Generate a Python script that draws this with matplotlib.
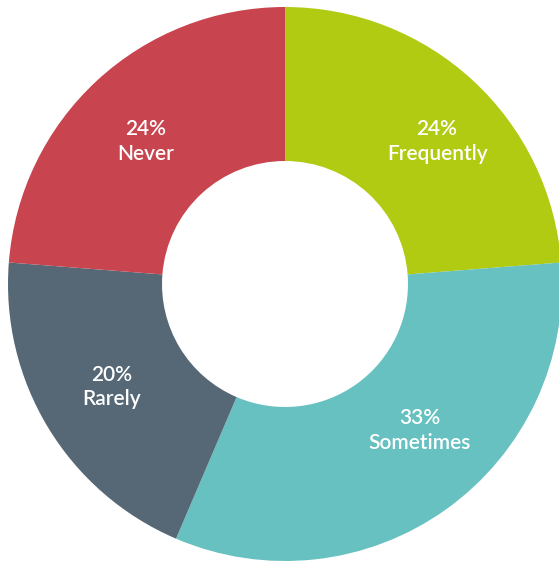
import matplotlib
matplotlib.use('Agg')
import matplotlib.pyplot as plt

# survey answers, clockwise from twelve o'clock
categories = ['Frequently', 'Sometimes', 'Rarely', 'Never']
percents = [24, 33, 20, 24]
colors = ['#b1ca12', '#67c1c0', '#566876', '#c8444f']

# where each label block sits, in units of the outer radius
label_xy = [(0.549, 0.515), (0.487, -0.530), (-0.625, -0.372), (-0.502, 0.515)]

plt.rcParams['font.family'] = ['Lato', 'DejaVu Sans']

fig = plt.figure(figsize=(5.59, 5.61), dpi=100)
ax = fig.add_axes([0, 0, 1, 1])

wedges, _ = ax.pie(percents, colors=colors, startangle=90, counterclock=False,
                   radius=1.0, wedgeprops=dict(width=0.556, linewidth=0))

for cat, pct, (x, y) in zip(categories, percents, label_xy):
    ax.text(x, y, '{}%\n{}'.format(pct, cat), color='white', fontsize=15,
            fontweight='semibold', ha='center', va='center', linespacing=1.3)

# pixel layout: centre at (285, 284) from top-left, radius 277 px
ax.set_xlim(-285 / 277, (559 - 285) / 277)
ax.set_ylim(-(561 - 284) / 277, 284 / 277)
ax.set_aspect('auto')
ax.axis('off')

fig.savefig('out.png', dpi=100, facecolor='white')
